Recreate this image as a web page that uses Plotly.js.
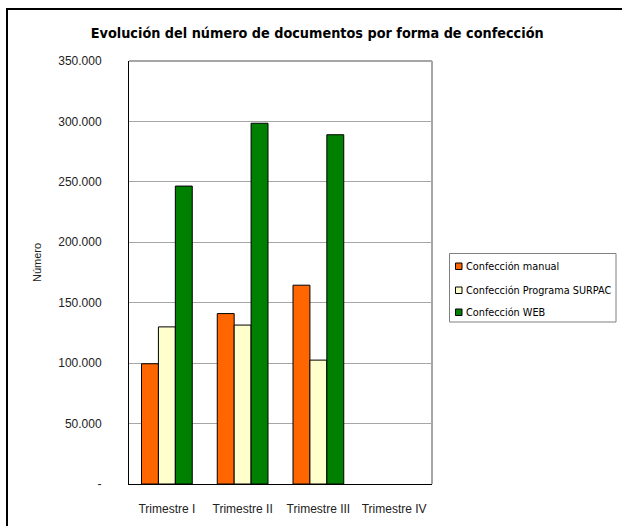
<!DOCTYPE html>
<html>
<head>
<meta charset="utf-8">
<script src="https://cdn.plot.ly/plotly-3.0.1.min.js"></script>
<style>
  html, body { margin: 0; padding: 0; background: #fff; }
  #wrap { position: relative; width: 622px; height: 526px; }
  #chart { position: absolute; left: 0; top: 0; width: 622px; height: 526px; }
  #frame { position: absolute; left: 6px; top: 8px; width: 640px; height: 540px;
           border-left: 2px solid #000; border-top: 2px solid #000; pointer-events: none; }
</style>
</head>
<body>
<div id="wrap"><div id="chart"></div><div id="frame"></div></div>
<script>
const categories = ["Trimestre I", "Trimestre II", "Trimestre III", "Trimestre IV"];
const seriesNames = ["Confección manual", "Confección Programa SURPAC", "Confección WEB"];
const manual = [99500, 141000, 164500, null];
const surpac = [130000, 131500, 102500, null];
const web = [246500, 298500, 289000, null];
const yTickVals = [0, 50000, 100000, 150000, 200000, 250000, 300000, 350000];
const yTickText = ["-", "50.000", "100.000", "150.000", "200.000", "250.000", "300.000", "350.000"];
const yTitle = "Número";
const chartTitle = "Evolución del número de documentos por forma de confección";

const colors = ["#FF6600", "#FFFFCC", "#008000"];
const values = [manual, surpac, web];
const narrow = "DejaVu Sans Condensed, Liberation Sans Narrow, Arial Narrow, sans-serif";

// layout geometry (pixels)
const W = 622, H = 526;
const M = { l: 129, r: 190, t: 61, b: 42 };
const plotW = W - M.l - M.r, plotH = H - M.t - M.b;
const px = p => (p - M.l) / plotW;
const py = p => (H - M.b - p) / plotH;

const traces = values.map((v, i) => ({
  type: "bar",
  name: seriesNames[i],
  x: categories,
  y: v,
  marker: { color: colors[i], line: { color: "#000", width: 1 } },
  hoverinfo: "none",
  showlegend: false
}));

// custom legend (box, swatches, labels)
const legendShapes = [
  { type: "rect", xref: "paper", yref: "paper",
    x0: px(449.5), x1: px(616), y0: py(322), y1: py(253.5),
    line: { color: "#808080", width: 1 }, fillcolor: "rgba(0,0,0,0)" }
];
const legendAnn = [];
const itemY = [266, 290, 312];
seriesNames.forEach((name, i) => {
  legendShapes.push({ type: "rect", xref: "paper", yref: "paper",
    x0: px(455.5), x1: px(462), y0: py(itemY[i] + 3.5), y1: py(itemY[i] - 3),
    line: { color: "#000", width: 1 }, fillcolor: colors[i] });
  legendAnn.push({ text: name, xref: "paper", yref: "paper",
    x: px(463.5), y: py(itemY[i]), xanchor: "left", yanchor: "middle",
    showarrow: false, font: { family: narrow, size: 10.8, color: "#000" } });
});

const layout = {
  width: W, height: H,
  margin: { l: M.l, r: M.r, t: M.t, b: M.b, autoexpand: false },
  paper_bgcolor: "#fff", plot_bgcolor: "#fff",
  font: { family: "Liberation Sans, Arial, sans-serif", size: 12, color: "#000" },
  title: {
    text: "<b>" + chartTitle + "</b>",
    font: { family: narrow, size: 14.3, color: "#000" },
    x: 0.51, xanchor: "center", xref: "container",
    y: 0.937, yanchor: "middle"
  },
  barmode: "group",
  bargap: 0.33,
  bargroupgap: 0,
  showlegend: false,
  xaxis: {
    type: "category",
    categoryorder: "array", categoryarray: categories,
    range: [-0.5, 3.5],
    showline: true, linecolor: "#000", linewidth: 1,
    ticks: "", ticklabelstandoff: 14, tickangle: 0,
    showgrid: false, zeroline: false,
    tickfont: { size: 12, color: "#222" }
  },
  yaxis: {
    range: [0, 350000],
    tickvals: yTickVals, ticktext: yTickText,
    showline: true, linecolor: "#000", linewidth: 1,
    ticks: "", ticklabelstandoff: 24,
    showgrid: true, gridcolor: "#A6A6A6", gridwidth: 1,
    zeroline: false,
    tickfont: { size: 12, color: "#222" }
  },
  annotations: [
    { text: yTitle, xref: "paper", yref: "paper", x: px(37), y: py(263),
      xanchor: "center", yanchor: "middle", textangle: -90, showarrow: false,
      font: { size: 11, color: "#222" } }
  ].concat(legendAnn),
  shapes: [
    { type: "line", xref: "paper", yref: "paper", x0: 1, x1: 1, y0: 0, y1: 1,
      line: { color: "#A6A6A6", width: 2 } },
    { type: "line", xref: "paper", yref: "paper", x0: 0, x1: 1, y0: 1, y1: 1,
      line: { color: "#A6A6A6", width: 2 } }
  ].concat(legendShapes)
};

Plotly.newPlot("chart", traces, layout, { staticPlot: true, displayModeBar: false });
</script>
</body>
</html>
